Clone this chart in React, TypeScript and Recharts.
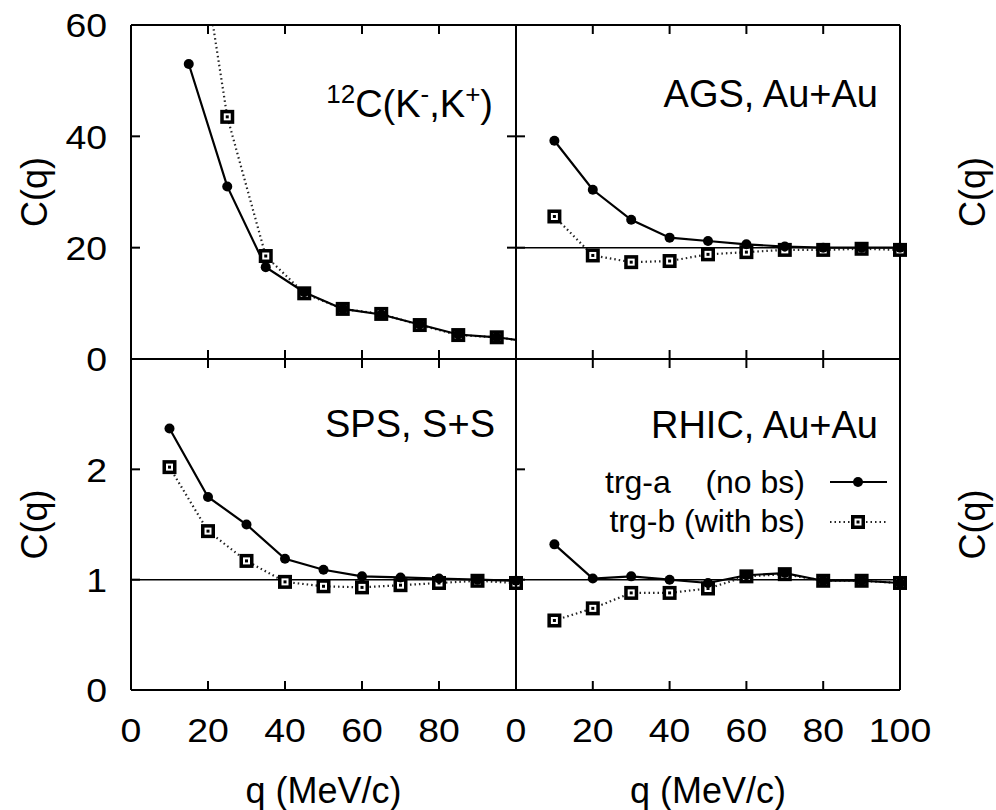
import { LineChart, Line, XAxis, YAxis, ReferenceLine } from 'recharts';

const FONT = '"Liberation Sans", Arial, Helvetica, sans-serif';

// 12C(K-,K+) panel (upper left)
const qC = [15, 25, 35, 45, 55, 65, 75, 85, 95, 105];
const cTrgA = [53, 31, 16.5, 12, 9, 8, 6.2, 4.4, 3.9, 3.0];
const cTrgB = [88, 43.5, 18.5, 11.8, 9, 8.1, 6.1, 4.3, 3.9, 3.0];

// heavy-ion panels share the same q grid
const qHI = [10, 20, 30, 40, 50, 60, 70, 80, 90, 100];
const agsTrgA = [1.96, 1.52, 1.25, 1.09, 1.06, 1.03, 1.01, 1.0, 1.0, 1.0];
const agsTrgB = [1.28, 0.93, 0.87, 0.88, 0.94, 0.96, 0.98, 0.98, 0.99, 0.98];
const spsTrgA = [2.37, 1.75, 1.5, 1.19, 1.09, 1.03, 1.02, 1.01, 1.0, 0.99];
const spsTrgB = [2.02, 1.44, 1.17, 0.98, 0.94, 0.93, 0.95, 0.97, 0.99, 0.97];
const rhicTrgA = [1.32, 1.01, 1.03, 1.0, 0.97, 1.04, 1.06, 0.99, 0.99, 0.97];
const rhicTrgB = [0.63, 0.74, 0.88, 0.88, 0.92, 1.03, 1.05, 0.99, 0.99, 0.97];

const xTicks = [0, 20, 40, 60, 80, 100];
const cTicks = [0, 20, 40, 60];
const unitTicks = [0, 1, 2, 3];

const rows = (q: number[], a: number[], b: number[]) => q.map((v, i) => ({ q: v, a: a[i], b: b[i] }));

const W = 996;
const H = 810;
const TL = 9; // inward tick length

function tickFor(side: 'left' | 'right' | 'top' | 'bottom', labels: number[]) {
  return (p: any) => {
    const { x, y, payload } = p;
    const v = payload.value;
    const show = labels.includes(v);
    let line = null;
    let text = null;
    const ts = { fontFamily: FONT, fontSize: 34, fill: '#000' };
    if (side === 'left') {
      line = <line x1={x} y1={y} x2={x + TL} y2={y} stroke="#000" strokeWidth={2} />;
      if (show) text = <text transform={`translate(${x - 24},${y}) scale(1.1,1)`} dy="0.36em" textAnchor="end" style={ts}>{v}</text>;
    } else if (side === 'right') {
      line = <line x1={x} y1={y} x2={x - TL} y2={y} stroke="#000" strokeWidth={2} />;
      if (show) text = <text transform={`translate(${x + 25},${y}) scale(1.1,1)`} dy="0.36em" textAnchor="start" style={ts}>{v}</text>;
    } else if (side === 'bottom') {
      line = <line x1={x} y1={y} x2={x} y2={y - TL} stroke="#000" strokeWidth={2} />;
      if (show) text = <text transform={`translate(${x},${y + 40}) scale(1.1,1)`} dy="0.36em" textAnchor="middle" style={ts}>{v}</text>;
    } else {
      line = <line x1={x} y1={y} x2={x} y2={y + TL} stroke="#000" strokeWidth={2} />;
    }
    return <g>{line}{text}</g>;
  };
}

const CircleDot = (p: any) => {
  if (p.cx == null || p.cy == null) return <g />;
  return <circle cx={p.cx} cy={p.cy} r={5} fill="#000" />;
};

const SquareDot = (p: any) => {
  if (p.cx == null || p.cy == null) return <g />;
  const { cx, cy } = p;
  return (
    <g>
      <rect x={cx - 7} y={cy - 7} width={14} height={14} fill="#000" />
      <rect x={cx - 3.5} y={cy - 3.5} width={7} height={7} fill="#fff" />
      <rect x={cx - 1.5} y={cy - 1.5} width={3} height={3} fill="#000" />
    </g>
  );
};

type PanelProps = {
  data: { q: number; a: number; b: number }[];
  x0: number; x1: number; y0: number; y1: number;
  yMax: number; yTicks: number[];
  leftLabels: number[]; rightLabels: number[]; bottomLabels: number[];
  unity?: boolean; clip?: boolean;
};

function Panel(pp: PanelProps) {
  const axisLine = { stroke: '#000', strokeWidth: 2 };
  return (
    <div style={{ position: 'absolute', left: 0, top: 0 }}>
      <LineChart
        width={W}
        height={H}
        data={pp.data}
        margin={{ left: pp.x0 - 40, right: W - pp.x1 - 40, top: pp.y0 - 20, bottom: H - pp.y1 - 20 }}
      >
        <XAxis xAxisId="b" orientation="bottom" dataKey="q" type="number" domain={[0, 100]} ticks={xTicks}
          interval={0} height={20} tickSize={0} tickMargin={0} tickLine={false} axisLine={axisLine}
          allowDataOverflow={pp.clip} tick={tickFor('bottom', pp.bottomLabels)} />
        <XAxis xAxisId="t" orientation="top" dataKey="q" type="number" domain={[0, 100]} ticks={xTicks}
          interval={0} height={20} tickSize={0} tickMargin={0} tickLine={false} axisLine={axisLine}
          allowDataOverflow={pp.clip} tick={tickFor('top', [])} />
        <YAxis yAxisId="l" orientation="left" type="number" domain={[0, pp.yMax]} ticks={pp.yTicks}
          interval={0} width={40} tickSize={0} tickMargin={0} tickLine={false} axisLine={axisLine}
          allowDataOverflow={pp.clip} tick={tickFor('left', pp.leftLabels)} />
        <YAxis yAxisId="r" orientation="right" type="number" domain={[0, pp.yMax]} ticks={pp.yTicks}
          interval={0} width={40} tickSize={0} tickMargin={0} tickLine={false} axisLine={axisLine}
          allowDataOverflow={pp.clip} tick={tickFor('right', pp.rightLabels)} />
        {pp.unity && (
          <ReferenceLine xAxisId="b" yAxisId="l" y={1} stroke="#000" strokeWidth={1.5} />
        )}
        <Line xAxisId="b" yAxisId="l" type="linear" dataKey="b" stroke="#222" strokeWidth={2.2}
          strokeDasharray="1.5 3" dot={SquareDot} activeDot={false} isAnimationActive={false} />
        <Line xAxisId="b" yAxisId="l" type="linear" dataKey="a" stroke="#000" strokeWidth={2.2}
          dot={CircleDot} activeDot={false} isAnimationActive={false} />
      </LineChart>
    </div>
  );
}

export default function App() {
  const L = 131, M = 516, R = 900, T = 25, C = 359, B = 690;
  const big = { fontFamily: FONT, fontSize: 38, fill: '#000' };
  const axisT = { fontFamily: FONT, fontSize: 36, fill: '#000' };
  const leg = { fontFamily: FONT, fontSize: 32, fill: '#000' };
  return (
    <div style={{ position: 'absolute', left: 0, top: 0, width: W, height: H, background: '#fff' }}>
      <Panel data={rows(qC, cTrgA, cTrgB)} x0={L} x1={M} y0={T} y1={C} yMax={60} yTicks={cTicks}
        leftLabels={[0, 20, 40, 60]} rightLabels={[]} bottomLabels={[]} clip />
      <Panel data={rows(qHI, agsTrgA, agsTrgB)} x0={M} x1={R} y0={T} y1={C} yMax={3} yTicks={unitTicks}
        leftLabels={[]} rightLabels={[0, 1, 2, 3]} bottomLabels={[]} unity />
      <Panel data={rows(qHI, spsTrgA, spsTrgB)} x0={L} x1={M} y0={C} y1={B} yMax={3} yTicks={unitTicks}
        leftLabels={[0, 1, 2]} rightLabels={[]} bottomLabels={[0, 20, 40, 60, 80]} unity />
      <Panel data={rows(qHI, rhicTrgA, rhicTrgB)} x0={M} x1={R} y0={C} y1={B} yMax={3} yTicks={unitTicks}
        leftLabels={[]} rightLabels={[0, 1, 2]} bottomLabels={[0, 20, 40, 60, 80, 100]} unity />
      <svg width={W} height={H} style={{ position: 'absolute', left: 0, top: 0 }}>
        <text x={493} y={117} textAnchor="end" style={big}>
          <tspan fontSize={26} dy={-14}>12</tspan>
          <tspan dy={14}>C(K</tspan>
          <tspan fontSize={26} dy={-14}>-</tspan>
          <tspan dy={14}>,K</tspan>
          <tspan fontSize={26} dy={-14}>+</tspan>
          <tspan dy={14}>)</tspan>
        </text>
        <text x={878} y={107} textAnchor="end" style={big}>AGS, Au+Au</text>
        <text x={495} y={437} textAnchor="end" style={big}>SPS, S+S</text>
        <text x={878} y={438} textAnchor="end" style={big}>RHIC, Au+Au</text>

        <text x={605} y={493} style={leg}>trg-a</text>
        <text x={805} y={493} textAnchor="end" style={leg}>(no bs)</text>
        <text x={805} y={532} textAnchor="end" style={leg}>trg-b (with bs)</text>
        <line x1={830} y1={482} x2={887} y2={482} stroke="#000" strokeWidth={2.2} />
        <circle cx={858} cy={482} r={5} fill="#000" />
        <line x1={830} y1={522} x2={887} y2={522} stroke="#222" strokeWidth={2.2} strokeDasharray="1.5 3" />
        <SquareDot cx={858} cy={522} />

        <text transform={`translate(34, ${(T + C) / 2}) rotate(-90)`} textAnchor="middle" dy="0.36em" style={axisT}>C(q)</text>
        <text transform={`translate(34, ${(C + B) / 2}) rotate(-90)`} textAnchor="middle" dy="0.36em" style={axisT}>C(q)</text>
        <text transform={`translate(972, ${(T + C) / 2}) rotate(-90)`} textAnchor="middle" dy="0.36em" style={axisT}>C(q)</text>
        <text transform={`translate(972, ${(C + B) / 2}) rotate(-90)`} textAnchor="middle" dy="0.36em" style={axisT}>C(q)</text>
        <text x={(L + M) / 2} y={803} textAnchor="middle" style={axisT}>q (MeV/c)</text>
        <text x={(M + R) / 2} y={803} textAnchor="middle" style={axisT}>q (MeV/c)</text>
      </svg>
    </div>
  );
}
